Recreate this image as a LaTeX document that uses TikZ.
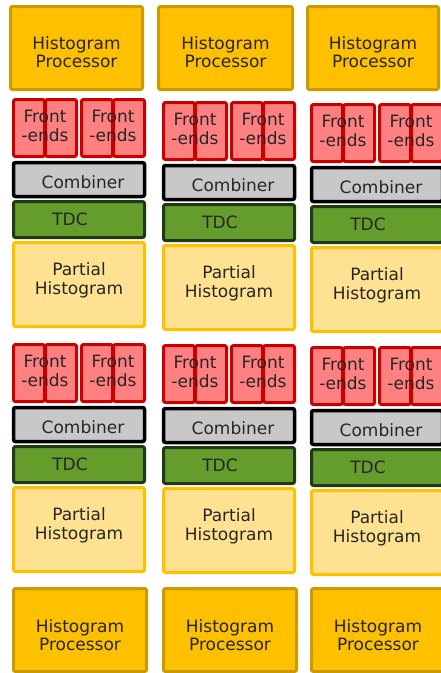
\documentclass[tikz,border=0pt]{standalone}
\usepackage{fontspec}
\setmainfont{DejaVu Sans}
\usetikzlibrary{positioning}
\definecolor{hpgold}{RGB}{255,192,0}
\definecolor{hpedge}{RGB}{200,156,0}
\definecolor{fered}{RGB}{255,128,128}
\definecolor{feedge}{RGB}{200,0,0}
\definecolor{combgray}{RGB}{200,200,200}
\definecolor{tdcgreen}{RGB}{101,157,45}
\definecolor{tdcedge}{RGB}{32,56,20}
\definecolor{phyellow}{RGB}{255,226,145}
\definecolor{phedge}{RGB}{255,192,0}

\begin{document}
\begin{tikzpicture}[x=1pt, y=-1pt,
    every node/.style={font=\fontsize{17}{18.5}\selectfont, text=black!85, inner sep=0pt, outer sep=0pt},
    rect/.style n args={4}{at={({((#1)+(#3))/2},{((#2)+(#4))/2})}, minimum width={(#3)-(#1)-3}, minimum height={(#4)-(#2)-3}},
    box/.style={draw, line width=3pt, rounded corners=2pt},
    txt/.style={align=center},
    hpbox/.style={box, fill=hpgold, draw=hpedge},
    febox/.style={box, fill=fered, draw=feedge},
    combbox/.style={box, fill=combgray, draw=black, line width=3.5pt},
    tdcbox/.style={box, fill=tdcgreen, draw=tdcedge},
    phbox/.style={box, fill=phyellow, draw=phedge}]
    \useasboundingbox (0,0) rectangle (441,673);
    \clip (0,0) rectangle (441,673);

    % three columns: stack left edge, stack tops, processor edges
    \foreach \c/\sx/\ya/\yb/\hx/\hr/\hb in {1/12/98/343/9/144/12, 2/162/101/344/157/294/162, 3/310/103/346/306/440/310}{
        % Histogram processors
        \node[hpbox, rect={\hx}{5}{\hr}{91}, label={[txt, yshift=-4pt]center:{Histogram\\Processor}}] (hp-top-\c) {};
        \node[hpbox, rect={\hb}{587}{\hb+136}{673}, label={[txt, yshift=-5pt]center:{Histogram\\Processor}}] (hp-bot-\c) {};

        \foreach \r/\y in {1/\ya, 2/\yb}{
            % Front-end pairs
            \foreach \p/\px in {a/0, b/68}{
                \node[febox, rect={\sx+\px}{\y}{\sx+\px+34}{\y+60}] (fe-\r-\c-\p1) {};
                \node[febox, rect={\sx+\px+32}{\y}{\sx+\px+66}{\y+60}] (fe-\r-\c-\p2) {};
                \node[txt, rect={\sx+\px}{\y-4}{\sx+\px+66}{\y+60}] (fe-\r-\c-\p) {Front\\-ends};
            }
            % Combiner, TDC, partial histogram
            \node[combbox, rect={\sx}{\y+63}{\sx+134}{\y+100}, label={[xshift=4pt, yshift=-2.5pt]center:Combiner}] (comb-\r-\c) {};
            \node[tdcbox, rect={\sx}{\y+102}{\sx+134}{\y+141}, label={[xshift=-9pt]center:TDC}] (tdc-\r-\c) {};
            \node[phbox, rect={\sx}{\y+143}{\sx+134}{\y+230}, label={[txt, yshift=4pt]center:{Partial\\Histogram}}] (ph-\r-\c) {};
        }
    }
\end{tikzpicture}
\end{document}
